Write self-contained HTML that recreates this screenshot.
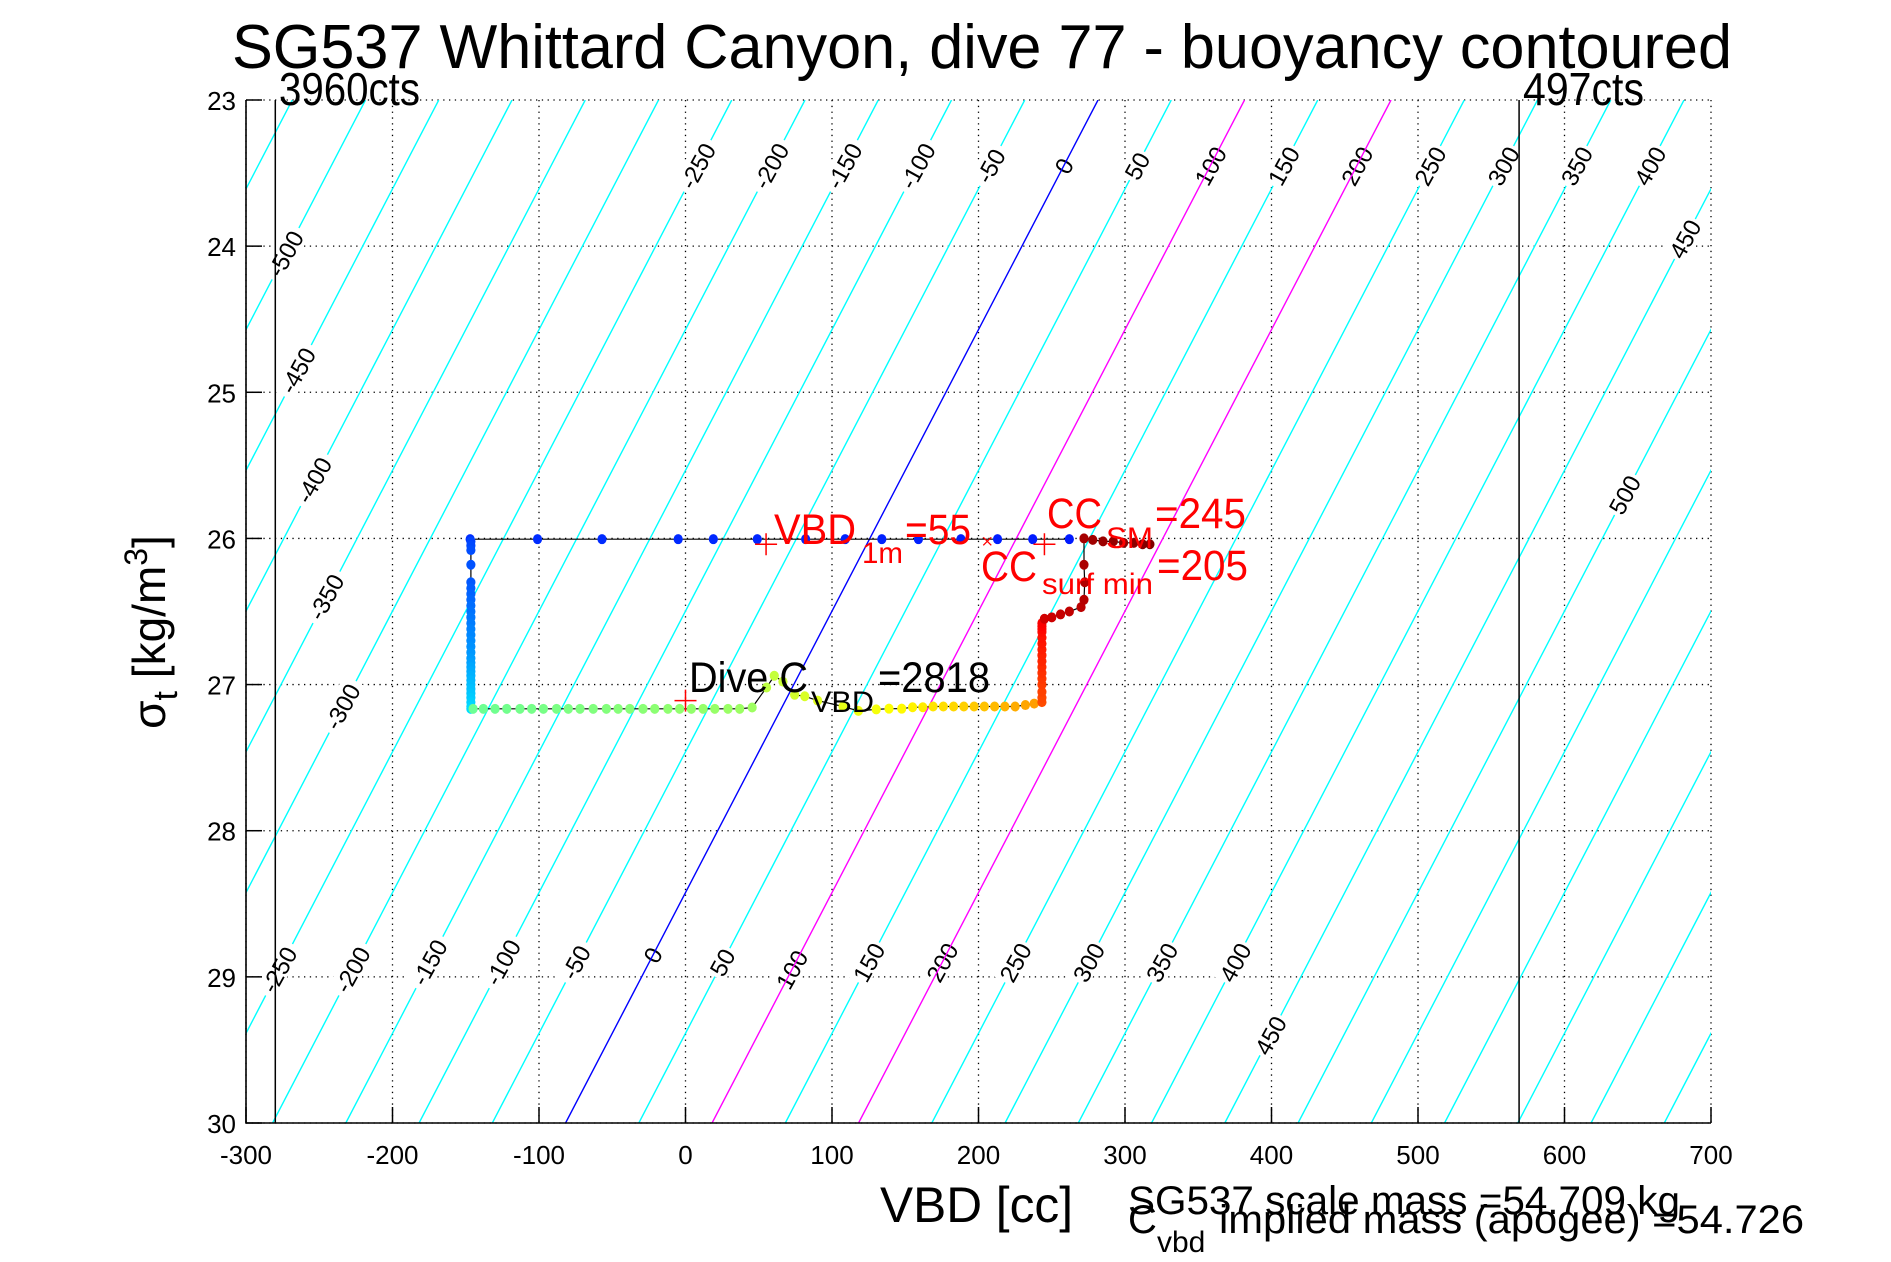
<!DOCTYPE html>
<html><head><meta charset="utf-8"><style>
html,body{margin:0;padding:0;background:#fff;}
svg{display:block;font-family:"Liberation Sans",Arial,sans-serif;}
</style></head><body>
<svg id="chart" width="1891" height="1262" viewBox="0 0 1891 1262" xmlns="http://www.w3.org/2000/svg">
<rect width="1891" height="1262" fill="#fff"/>
<defs><clipPath id="plotclip"><rect x="246" y="100" width="1465" height="1023"/></clipPath></defs>
<g id="grid"></g>
<g id="contours" clip-path="url(#plotclip)"></g>
<g id="clabels"></g>
<g id="contoursTop" clip-path="url(#plotclip)"></g>
<g id="refs"></g>
<g id="series"></g>
<g id="axes"></g>

<text x="232" y="68" font-size="62" textLength="1500" lengthAdjust="spacingAndGlyphs">SG537 Whittard Canyon, dive 77 - buoyancy contoured</text>
<text x="279" y="105" font-size="46" textLength="141" lengthAdjust="spacingAndGlyphs">3960cts</text>
<text x="1523" y="105" font-size="46" textLength="121" lengthAdjust="spacingAndGlyphs">497cts</text>

<text transform="translate(165,632) rotate(-90)" text-anchor="middle" font-size="46">σ<tspan font-size="34" dy="12">t</tspan><tspan dy="-12"> [kg/m</tspan><tspan font-size="32" dy="-18">3</tspan><tspan dy="18">]</tspan></text>
<text x="880" y="1222" font-size="50" textLength="193" lengthAdjust="spacingAndGlyphs">VBD [cc]</text>
<text x="1128" y="1214" font-size="40" textLength="552" lengthAdjust="spacingAndGlyphs">SG537 scale mass =54.709 kg</text>
<text x="1128" y="1233" font-size="40">C</text>
<text x="1157" y="1252" font-size="30">vbd</text>
<text x="1219" y="1233" font-size="40" textLength="585" lengthAdjust="spacingAndGlyphs">implied mass (apogee) =54.726</text>

<g fill="#f00">
<text x="774" y="544" font-size="43" textLength="82" lengthAdjust="spacingAndGlyphs">VBD</text>
<text x="862" y="563" font-size="30" textLength="41" lengthAdjust="spacingAndGlyphs">1m</text>
<text x="905" y="544" font-size="43" textLength="66" lengthAdjust="spacingAndGlyphs">=55</text>
</g>
<g fill="#f00">
<text x="1047" y="528" font-size="43" textLength="55" lengthAdjust="spacingAndGlyphs">CC</text>
<text x="1106" y="548" font-size="30" textLength="47" lengthAdjust="spacingAndGlyphs">SM</text>
<text x="1155" y="528" font-size="43" textLength="91" lengthAdjust="spacingAndGlyphs">=245</text>
</g>
<g fill="#f00">
<text x="981" y="581" font-size="43" textLength="56" lengthAdjust="spacingAndGlyphs">CC</text>
<text x="1042" y="594" font-size="30" textLength="111" lengthAdjust="spacingAndGlyphs">surf min</text>
<text x="1157" y="580" font-size="43" textLength="91" lengthAdjust="spacingAndGlyphs">=205</text>
</g>
<g fill="#000">
<text x="689" y="692" font-size="43" textLength="119" lengthAdjust="spacingAndGlyphs">Dive C</text>
<text x="811" y="712" font-size="30" textLength="63" lengthAdjust="spacingAndGlyphs">VBD</text>
<text x="878" y="692" font-size="43" textLength="112" lengthAdjust="spacingAndGlyphs">=2818</text>
</g>
</svg>
<script>
// ---- data ----
const xTicks = [-300,-200,-100,0,100,200,300,400,500,600,700];
const yTicks = [23,24,25,26,27,28,29,30];
const contourLevels = [-800,-750,-700,-650,-600,-550,-500,-450,-400,-350,-300,-250,-200,-150,-100,-50,0,50,100,150,200,250,300,350,400,450,500,550,600,650,700,750,800,850,900,950,1000];
const labelLevels = [-250,-200,-150,-100,-50,0,50,100,150,200,250,300,350,400,450,-500,-450,-400,-350,-300,500,-250,-200,-150,-100,-50,0,50,100,150,200,250,300,350,400,450];
const labelSigmas = [23.45,23.45,23.45,23.45,23.45,23.45,23.45,23.45,23.45,23.45,23.45,23.45,23.45,23.45,23.95,24.05,24.85,25.6,26.4,27.15,25.7,28.95,28.95,28.9,28.9,28.9,28.85,28.9,28.95,28.9,28.9,28.9,28.9,28.9,28.9,29.4];
const massGrams = 54709;
const volumeRef = 53197.4;
const countLines = [-280,569];
const diveVbd = [262,237,213,188,159,134,109,82,49,19,-5,-57,-101,-147,
 -146.5,-146.5,-146.5,-146.5,-146.5,-146.5,-146.5,-146.5,-146.5,-146.5,-146.5,-146.5,-146.5,-146.5,-146.5,-146.5,-146.5,-146.5,-146.5,-146.5,-146.5,-146.5,-146.5,-146.5,-146.5,-146.5,-146.5,-146.5,-146.5,-146.5,
 -145,-138,-130,-122,-113,-105,-97,-88,-80,-72,-63,-54,-46,-38,-29,-21,-12,-4,4,12,20,29,37,45.5,
 55.3,60.6,66.5,74.5,81.4,90.2,107.5,118,130.2,138.9,147.6,155,162,169,176,183,190,197,204,211,218,225,232,238,
 243.3,243.3,243.3,243.3,243.3,243.3,243.3,243.3,243.3,243.3,243.3,243.3,243.3,243.3,243.3,243.3,
 245,250,256,262,270,272,272.5,272,272,278,285,292,299,306,312,317];
const diveSigma = [26.005,26.005,26.005,26.005,26.005,26.005,26.005,26.005,26.005,26.005,26.005,26.005,26.005,26.005,
 26.02,26.05,26.08,26.18,26.3,26.34,26.38,26.42,26.46,26.5,26.54,26.58,26.62,26.66,26.7,26.74,26.78,26.82,26.85,26.88,26.91,26.94,26.97,27.0,27.03,27.06,27.09,27.12,27.15,27.166,
 27.166,27.166,27.166,27.166,27.166,27.166,27.166,27.166,27.166,27.166,27.166,27.166,27.166,27.166,27.166,27.166,27.166,27.166,27.166,27.166,27.166,27.166,27.166,27.157,
 27.02,26.94,26.98,27.07,27.08,27.11,27.15,27.18,27.17,27.165,27.165,27.155,27.155,27.15,27.15,27.15,27.15,27.15,27.15,27.15,27.15,27.15,27.14,27.13,
 27.12,27.09,27.05,27.0,26.96,26.92,26.88,26.84,26.8,26.76,26.72,26.68,26.64,26.62,26.6,26.58,
 26.55,26.54,26.52,26.5,26.47,26.42,26.3,26.18,26.0,26.01,26.02,26.02,26.03,26.03,26.04,26.04];
const markerVbd = [55,245,0];
const markerSigma = [26.04,26.04,27.11];
const surfMinVbd = [206];
const surfMinSigma = [26.02];

// ---- axes functions ----
const X0=246, X1=1711, Y0=100, Y1=1123;
function sx(v){return X0+(v+300)/1000*(X1-X0);}
function sy(s){return Y0+(s-23)/7*(Y1-Y0);}
function contourVbd(B,s){return massGrams/(1+s/1000)-volumeRef+B;}
const NS='http://www.w3.org/2000/svg';
function mk(tag,attrs,parent){const e=document.createElementNS(NS,tag);for(const k in attrs)e.setAttribute(k,attrs[k]);parent.appendChild(e);return e;}

const grid=document.getElementById('grid');
xTicks.forEach(v=>{const l=mk('line',{x1:sx(v),x2:sx(v),y1:Y0,y2:Y1,stroke:'#000','stroke-width':1.3,'stroke-dasharray':'1.3,4.5'},grid);

});
yTicks.forEach(v=>{const l=mk('line',{x1:X0,x2:X1,y1:sy(v),y2:sy(v),stroke:'#000','stroke-width':1.3,'stroke-dasharray':'1.3,4.5'},grid);

});

// contours
const cg=document.getElementById('contours'), ctop=document.getElementById('contoursTop');
contourLevels.forEach(B=>{
  const col = B===0?'#0000ff':(B===100||B===200?'#ff00ff':'#00ffff');
  const parent = col==='#00ffff'?cg:ctop;
  const l=mk('line',{x1:sx(contourVbd(B,30)),y1:sy(30),x2:sx(contourVbd(B,23)),y2:sy(23),stroke:col,'stroke-width':1.4},parent);
  
  
});
const lg=document.getElementById('clabels');
labelLevels.forEach((B,i)=>{
  const s=labelSigmas[i];
  const x=sx(contourVbd(B,s)), y=sy(s);
  const g=mk('g',{transform:`translate(${x.toFixed(1)},${y.toFixed(1)}) rotate(-61)`},lg);
  
  
  const w=String(B).length*13+6;
  mk('rect',{x:-w/2,y:-13,width:w,height:24,fill:'#fff'},g);
  const t=mk('text',{x:0,y:9,'text-anchor':'middle','font-size':24,fill:'#000'},g);
  t.textContent=String(B);
});

// reference lines
const rg=document.getElementById('refs');
countLines.forEach(v=>{const l=mk('line',{x1:sx(v),x2:sx(v),y1:Y0,y2:Y1,stroke:'#000','stroke-width':1.5},rg);

});

// series
function jet(t){const c=v=>Math.round(255*Math.max(0,Math.min(1,v)));
 return `rgb(${c(1.5-Math.abs(4*t-3))},${c(1.5-Math.abs(4*t-2))},${c(1.5-Math.abs(4*t-1))})`;}
// colour ramp per path segment (segment end indices -> colour range)
const segEnds=[14,44,68,92,108,diveVbd.length];
const segCol=[[0.15,0.17],[0.19,0.34],[0.48,0.53],[0.56,0.72],[0.8,0.88],[0.92,1.0]];
function colorAt(i){let s0=0;for(let k=0;k<segEnds.length;k++){if(i<segEnds[k]){const f=(i-s0)/Math.max(1,segEnds[k]-s0-1);return jet(segCol[k][0]+(segCol[k][1]-segCol[k][0])*f);}s0=segEnds[k];}return jet(1);}
const sg=document.getElementById('series');
const pts=diveVbd.map((v,i)=>sx(v).toFixed(1)+','+sy(diveSigma[i]).toFixed(1)).join(' ');
const pl=mk('polyline',{points:pts,fill:'none',stroke:'#000','stroke-width':1.2},sg);


diveVbd.forEach((v,i)=>{
  const c=mk('ellipse',{cx:sx(v),cy:sy(diveSigma[i]),rx:4.6,ry:5,fill:colorAt(i)},sg);
  
  
});
markerVbd.forEach((v,i)=>{
  const x=sx(v),y=sy(markerSigma[i]);
  const p=mk('path',{d:`M${x-11},${y}H${x+11}M${x},${y-11}V${y+11}`,stroke:'#f00','stroke-width':1.5,fill:'none'},sg);
  
  
});
surfMinVbd.forEach((v,i)=>{
  const x=sx(v),y=sy(surfMinSigma[i]);
  const p=mk('path',{d:`M${x-4},${y-4}L${x+4},${y+4}M${x-4},${y+4}L${x+4},${y-4}`,stroke:'#f00','stroke-width':1.3,fill:'none'},sg);
  
  
});

// axes
const ax=document.getElementById('axes');
mk('path',{d:`M${X0},${Y0}V${Y1}H${X1}`,stroke:'#000','stroke-width':1.6,fill:'none'},ax);
xTicks.forEach(v=>{
  const l=mk('line',{x1:sx(v),x2:sx(v),y1:Y1,y2:Y1-16,stroke:'#000','stroke-width':1.5},ax);
  
  
  const t=mk('text',{x:sx(v),y:1164,'text-anchor':'middle','font-size':26},ax);
  
  
  t.textContent=String(v);
});
yTicks.forEach(v=>{
  const l=mk('line',{x1:X0,x2:X0+16,y1:sy(v),y2:sy(v),stroke:'#000','stroke-width':1.5},ax);
  
  
  const t=mk('text',{x:236,y:sy(v)+10,'text-anchor':'end','font-size':26},ax);
  
  
  t.textContent=String(v);
});
</script>
</body></html>
